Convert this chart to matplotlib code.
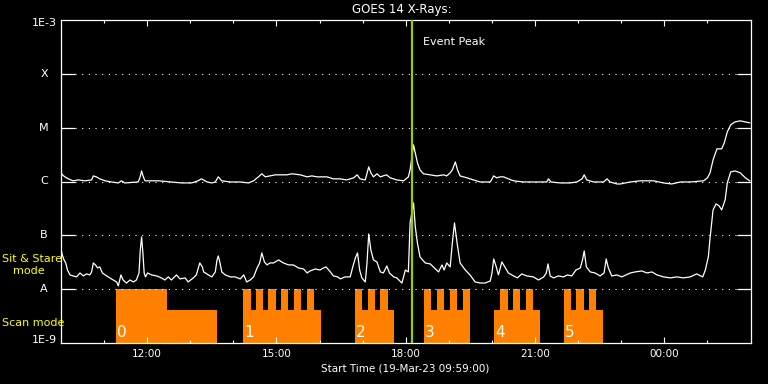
import matplotlib
matplotlib.use('Agg')
import matplotlib.pyplot as plt
from matplotlib.ticker import NullLocator

# ---------------- data (hours since 00:00 on 19-Mar-23) ----------------
long_t = [10.00, 10.03, 10.09, 10.17, 10.28, 10.40, 10.56, 10.71, 10.75, 10.82, 10.90, 11.02, 11.17, 11.33, 11.40,
          11.48, 11.79, 11.83, 11.87, 11.91, 11.95, 12.02, 12.26, 12.56, 12.80, 13.03, 13.18, 13.26,
          13.39, 13.50, 13.58, 13.65, 13.73, 13.93, 14.16, 14.35, 14.47, 14.58, 14.66, 14.74, 14.85, 14.97, 15.24,
          15.36, 15.55, 15.71, 15.82, 15.94, 16.17, 16.32, 16.48,
          16.63, 16.79, 16.87, 16.94, 17.06, 17.14, 17.19, 17.25, 17.33, 17.41, 17.55, 17.64, 17.79, 17.95, 18.06,
          18.10, 18.18, 18.22, 18.27, 18.33, 18.41, 18.57, 18.72, 18.88, 18.95, 19.03, 19.08, 19.15, 19.20, 19.26,
          19.42, 19.57, 19.73,
          19.96, 20.04, 20.11, 20.19, 20.27, 20.38, 20.50, 20.73, 21.04, 21.27, 21.31, 21.37, 21.58, 21.81, 21.97,
          22.09, 22.14, 22.20, 22.36, 22.59, 22.67, 22.74, 22.90,
          22.98, 23.21, 23.44, 23.75, 23.98, 24.17, 24.37, 24.60, 24.91, 25.00, 25.06, 25.13, 25.22, 25.33, 25.39,
          25.46, 25.54, 25.64, 25.76, 25.88, 25.98]
long_flux_e6 = [1.51, 1.33, 1.22, 1.12, 1.03, 1.07, 1.03, 1.07, 1.27, 1.22, 1.12, 1.03, 0.98, 0.94, 1.03,
                0.94, 0.98, 1.17, 1.57, 1.22, 1.03, 1.03, 1.03, 0.98, 0.94, 0.94, 1.03, 1.12,
                0.98, 0.94, 0.98, 1.22, 1.03, 0.98, 0.98, 0.94, 1.03, 1.22, 1.39, 1.22, 1.27, 1.33, 1.33,
                1.39, 1.33, 1.22, 1.27, 1.22, 1.22, 1.12, 1.12,
                1.07, 1.17, 1.33, 1.12, 1.07, 1.87, 1.45, 1.22, 1.39, 1.22, 1.33, 1.17, 1.07, 1.03, 1.22,
                1.64, 4.79, 3.40, 2.22, 1.64, 1.39, 1.33, 1.27, 1.33, 1.27, 1.45, 1.64, 2.31, 1.64, 1.27,
                1.17, 1.07, 0.98,
                0.98, 1.27, 1.17, 1.22, 1.22, 1.12, 1.03, 0.98, 0.98, 0.98, 1.12, 0.98, 0.94, 0.94, 0.98,
                1.12, 1.33, 1.07, 0.98, 0.98, 1.12, 0.98, 0.90,
                0.90, 0.98, 1.03, 1.03, 0.94, 0.90, 0.98, 0.98, 1.03, 1.17, 1.45, 2.52, 4.04, 4.04, 5.22,
                8.36, 11.3, 12.8, 13.4, 12.8, 12.3]

short_t = [10.00, 10.03, 10.07, 10.11, 10.15, 10.21, 10.28, 10.36, 10.44, 10.52, 10.59, 10.67, 10.71, 10.75, 10.80,
           10.85, 10.90, 10.96, 11.06, 11.17, 11.29, 11.33, 11.39, 11.44, 11.52, 11.60, 11.68, 11.75, 11.81, 11.84,
           11.87, 11.90, 11.93, 11.96, 12.01, 12.10, 12.22, 12.33, 12.41, 12.49, 12.56, 12.68, 12.76, 12.88, 12.95,
           13.07, 13.14, 13.22, 13.28,
           13.31, 13.42, 13.50, 13.58, 13.62, 13.65, 13.69, 13.73, 13.81, 13.93, 14.04, 14.16, 14.24, 14.31, 14.39,
           14.47, 14.55, 14.61, 14.66, 14.72, 14.78, 14.85, 14.93, 15.05, 15.16, 15.28, 15.39, 15.51, 15.63, 15.71,
           15.78, 15.90, 16.01, 16.09, 16.15, 16.25, 16.32, 16.42, 16.48,
           16.59, 16.71, 16.77, 16.83, 16.88, 16.93, 16.98, 17.06, 17.10, 17.14, 17.19, 17.25, 17.33, 17.41, 17.48,
           17.56, 17.62, 17.72, 17.79, 17.91, 17.99, 18.06, 18.10, 18.18, 18.22, 18.27, 18.33, 18.45, 18.57, 18.64,
           18.76, 18.84, 18.89, 18.95, 19.03, 19.08, 19.13, 19.19, 19.26, 19.38, 19.49, 19.61, 19.73,
           19.84, 19.96, 20.00, 20.04, 20.10, 20.15, 20.23, 20.31, 20.38, 20.50, 20.59, 20.69, 20.81, 20.96, 21.08,
           21.20, 21.26, 21.30, 21.35, 21.43, 21.54, 21.66, 21.75, 21.85, 21.95, 22.05, 22.10, 22.14, 22.19, 22.28,
           22.39, 22.51, 22.60, 22.65, 22.70, 22.78, 22.90, 23.01,
           23.21, 23.32, 23.48, 23.59, 23.71, 23.83, 23.98, 24.14, 24.29, 24.44, 24.60, 24.75, 24.89, 24.95, 25.02,
           25.06, 25.13, 25.20, 25.27, 25.33, 25.41, 25.46, 25.54, 25.64, 25.76, 25.88, 25.98]
short_flux_e8 = [5.59, 4.32, 3.49, 3.07, 2.27, 1.84, 1.76, 1.69, 2.0, 1.76, 1.92, 1.84, 2.09, 3.07, 2.82,
                 2.48, 2.59, 2.0, 1.76, 1.55, 1.36, 1.15, 1.84, 1.48, 1.30, 1.48, 1.36, 1.48, 2.0, 5.35,
                 9.34, 4.71, 2.0, 1.69, 2.0, 1.84, 1.76, 1.62, 1.48, 1.69, 1.48, 1.84, 1.55, 1.62, 1.36,
                 1.62, 1.84, 3.07, 2.59,
                 2.09, 1.84, 1.69, 2.09, 3.49, 4.14, 3.07, 2.09, 1.84, 1.69, 1.69, 1.55, 1.84, 1.36, 1.48,
                 1.69, 2.48, 3.07, 4.71, 3.2, 2.82, 3.07, 3.07, 3.49, 3.07, 2.82, 2.82, 2.48, 2.37, 2.0,
                 2.18, 2.37, 2.27, 2.48, 2.59, 2.09, 1.76, 1.69, 1.55,
                 1.69, 1.69, 2.59, 3.8, 4.71, 2.27, 1.62, 1.36, 3.07, 10.6, 5.35, 3.49, 3.2, 2.09, 2.0,
                 2.7, 2.0, 1.69, 1.62, 1.30, 2.27, 2.09, 17.0, 40.0, 14.5, 7.22, 3.97, 3.07, 2.94, 2.59,
                 2.09, 2.82, 2.27, 3.07, 2.59, 7.22, 17.0, 7.22, 3.07, 2.27, 1.84, 1.36, 1.30,
                 1.30, 1.42, 2.0, 3.64, 2.59, 1.84, 3.2, 2.48, 2.0, 1.76, 1.62, 1.92, 1.76, 1.69, 1.48,
                 1.69, 2.0, 2.94, 1.76, 1.62, 1.76, 1.69, 1.84, 1.76, 2.27, 2.48, 3.49, 5.13, 2.59, 2.09,
                 2.0, 1.76, 2.0, 3.64, 2.48, 1.76, 1.84, 1.69,
                 2.0, 2.09, 2.18, 2.0, 2.09, 1.84, 1.69, 1.62, 1.69, 1.62, 1.69, 1.92, 1.69, 2.27, 3.97,
                 8.95, 29.7, 38.3, 35.2, 29.7, 45.5, 94.2, 151, 157, 145, 117, 103]

# IRIS observing schedule (mode per interval between edges): F = sit & stare, H = scan, 0 = none
scan_edges = [11.274, 12.457, 13.624,
              14.227, 14.397, 14.529, 14.691, 14.814, 14.986, 15.109, 15.278, 15.404, 15.573, 15.705, 15.868, 16.037,
              16.826, 16.995, 17.121, 17.290, 17.413, 17.585, 17.724,
              18.427, 18.596, 18.722, 18.891, 19.023, 19.193, 19.316, 19.494,
              20.051, 20.190, 20.376, 20.492, 20.661, 20.787, 20.956, 21.118,
              21.675, 21.845, 21.961, 22.132, 22.255, 22.425, 22.580]
scan_modes = "FH0" + "FHFHFHFHFHFH0" + "FHFHFH0" + "FHFHFHF0" + "HFHFHFH0" + "FHFHFH"
scan_numbers = ['0', '1', '2', '3', '4', '5']
scan_starts = [11.274, 14.227, 16.826, 18.427, 20.051, 21.675]

event_peak_t = 18.142
level_names = ['A', 'B', 'C', 'M', 'X']
level_values = [1e-8, 1e-7, 1e-6, 1e-5, 1e-4]
hour_ticks = [12, 15, 18, 21, 24]
hour_labels = ['12:00', '15:00', '18:00', '21:00', '00:00']
minor_hours = [11, 13, 14, 16, 17, 19, 20, 22, 23, 25]

# ---------------- figure ----------------
W, H = 768, 384
fig = plt.figure(figsize=(7.68, 3.84), dpi=100, facecolor='black')
ax = fig.add_axes([61 / W, 41 / H, 690 / W, 323 / H])
ax.set_facecolor('black')
ax.set_yscale('log')
ax.set_ylim(1e-9, 1e-3)
ax.set_xlim(10.0, 26.01)

ORANGE = '#ff8000'
mode_level = {'F': 1e-8, 'H': 4.1e-9}
for i, m in enumerate(scan_modes):
    if m in mode_level:
        ax.fill_between([scan_edges[i], scan_edges[i + 1]], 1e-9, mode_level[m],
                        color=ORANGE, lw=0, antialiased=False, zorder=1)
for lab, t0 in zip(scan_numbers, scan_starts):
    ax.text(t0 + 0.02, 1.57e-9, lab, color='white', fontsize=11, ha='left', va='center', zorder=5)

# dotted reference levels
for v in level_values:
    ax.axhline(v, xmin=14 / 690, xmax=1 - 14 / 690, color='white', lw=0.8,
               linestyle=(0, (1, 5)), zorder=2)

ax.plot(long_t, [v * 1e-6 for v in long_flux_e6], color='white', lw=0.9, zorder=3)
ax.plot(short_t, [v * 1e-8 for v in short_flux_e8], color='white', lw=0.9, zorder=3)

ax.axvline(event_peak_t, color='#9acd00', lw=1.6, zorder=4)
ax.text(18.39, 3.85e-4, 'Event Peak', color='white', fontsize=8, ha='left', va='center')

for s in ax.spines.values():
    s.set_color('white')
    s.set_linewidth(0.9)

ax.set_xticks(hour_ticks)
ax.set_xticklabels(hour_labels)
ax.set_xticks(minor_hours, minor=True)
ax.tick_params(axis='x', which='major', direction='in', length=4.3, width=0.8, colors='white',
               top=True, bottom=True, labelsize=7.5, pad=4.5)
ax.tick_params(axis='x', which='minor', direction='in', length=2.2, width=0.8, colors='white',
               top=True, bottom=True)

ax.set_yticks(level_values)
ax.yaxis.set_minor_locator(NullLocator())
ax.tick_params(axis='y', which='major', direction='in', length=10, width=0.9, colors='white',
               left=True, right=True, labelleft=False)

ytr = ax.get_yaxis_transform()
for name, v in zip(level_names, level_values):
    ax.text(-17 / 690, v, name, transform=ytr, color='white', fontsize=8, ha='center', va='center')
ax.text(-4.5 / 690, 8.87e-4, '1E-3', transform=ytr, color='white', fontsize=8, ha='right', va='center')
ax.text(-4.5 / 690, 1.14e-9, '1E-9', transform=ytr, color='white', fontsize=8, ha='right', va='center')

fig.text(402 / W, 1 - 9.2 / H, 'GOES 14 X-Rays:', color='white', fontsize=8.5, ha='center', va='center')
fig.text(405 / W, 1 - 368.7 / H, 'Start Time (19-Mar-23 09:59:00)', color='white', fontsize=7.5,
         ha='center', va='center')

YEL = '#ffff00'
fig.text(2 / W, 1 - 259 / H, 'Sit & Stare', color=YEL, fontsize=8, ha='left', va='center')
fig.text(12.7 / W, 1 - 271 / H, 'mode', color=YEL, fontsize=8, ha='left', va='center')
fig.text(2 / W, 1 - 323.5 / H, 'Scan mode', color=YEL, fontsize=8, ha='left', va='center')

fig.savefig('out.png', dpi=100, facecolor='black')
